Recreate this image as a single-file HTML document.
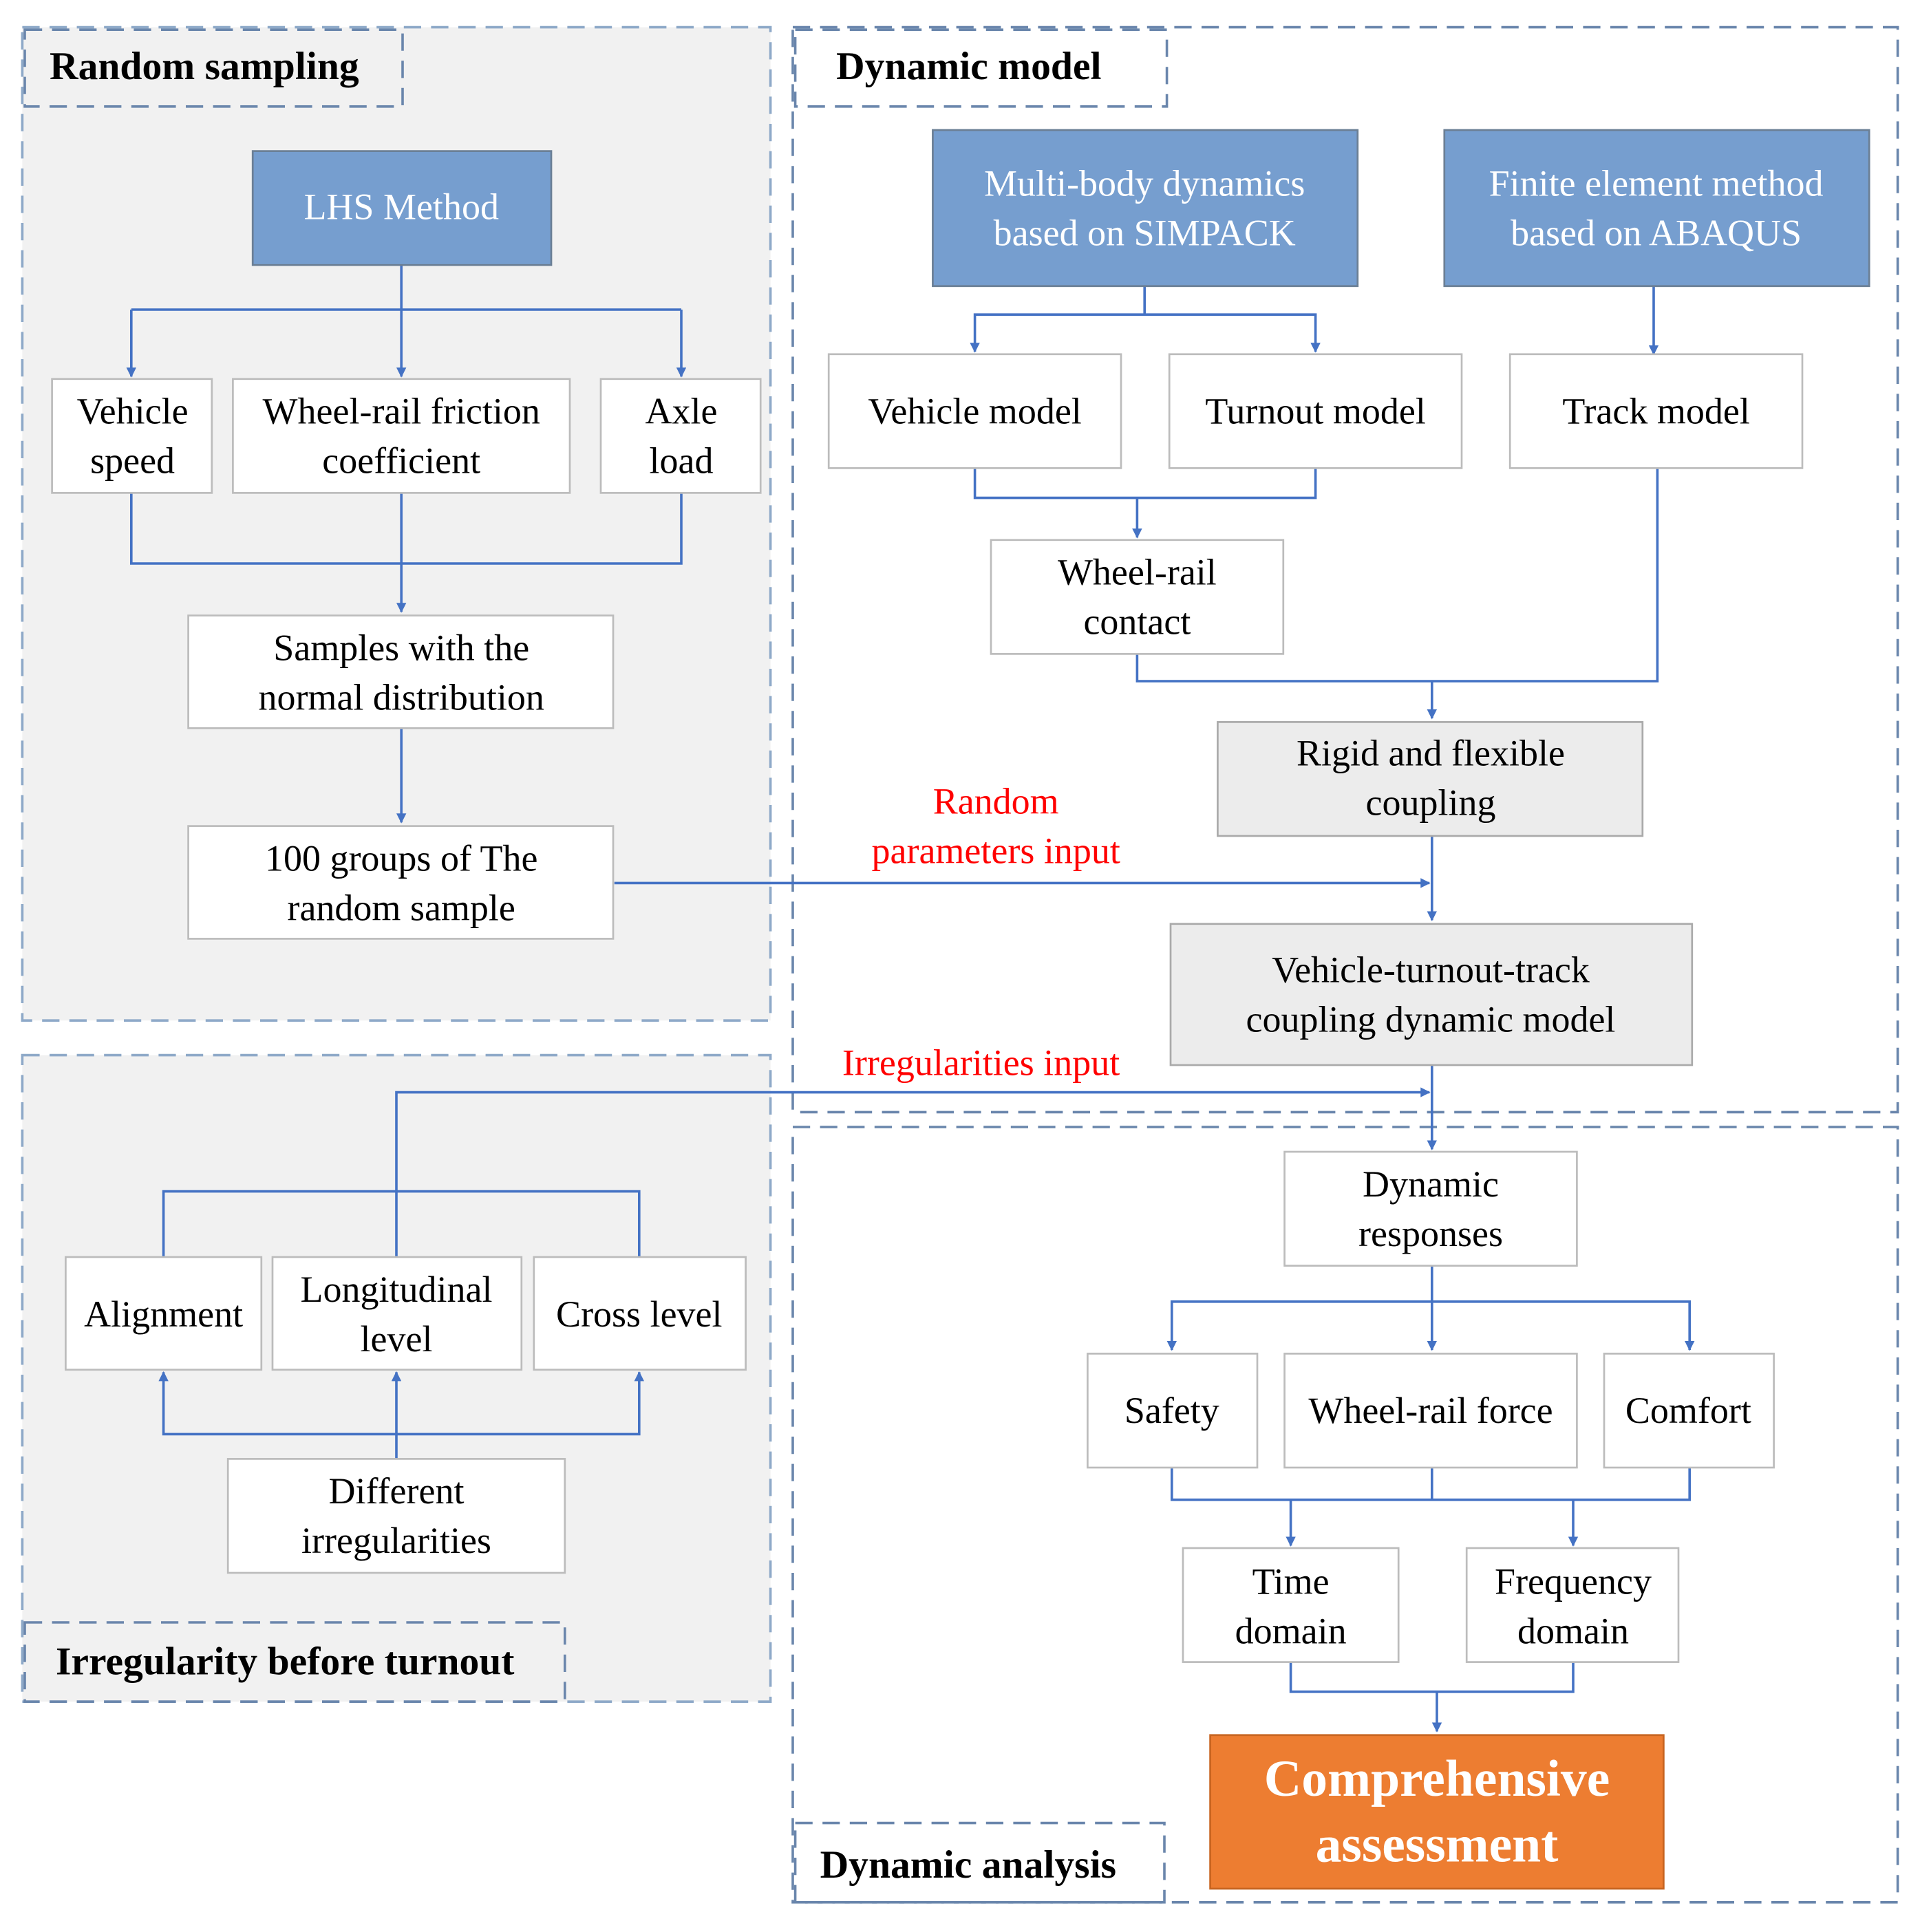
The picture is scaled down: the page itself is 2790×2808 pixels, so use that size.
<!DOCTYPE html>
<html><head><meta charset="utf-8"><style>html,body{margin:0;padding:0;background:#fff}svg{display:block}</style></head>
<body>
<svg width="2790" height="2808" viewBox="0 0 1550 1560" xmlns="http://www.w3.org/2000/svg" font-family="Liberation Serif, serif">
<defs>
<marker id="a" viewBox="0 0 10 10" refX="9" refY="5" markerWidth="4" markerHeight="4" orient="auto-start-reverse"><path d="M0,0L10,5L0,10z" fill="#4472c4"/></marker>
</defs>
<rect x="18" y="22" width="604" height="802" fill="#f1f1f1" stroke="#8ea9c8" stroke-width="2" stroke-dasharray="14,8"/>
<rect x="18" y="852" width="604" height="522" fill="#f1f1f1" stroke="#8ea9c8" stroke-width="2" stroke-dasharray="14,8"/>
<rect x="640" y="22" width="892" height="876" fill="none" stroke="#6a86ac" stroke-width="2" stroke-dasharray="14,8"/>
<rect x="640" y="910" width="892" height="626" fill="none" stroke="#6a86ac" stroke-width="2" stroke-dasharray="14,8"/>
<g fill="none" stroke="#6a86ac" stroke-width="2" stroke-dasharray="14,8">
<rect x="20" y="24" width="305" height="62"/>
<rect x="642" y="24" width="300" height="62"/>
<rect x="20" y="1310" width="436" height="64"/>
<rect x="642" y="1472" width="298" height="64"/>
</g>
<g font-weight="bold" font-size="32" fill="#000">
<text x="40" y="64">Random sampling</text>
<text x="675" y="64">Dynamic model</text>
<text x="45" y="1352">Irregularity before turnout</text>
<text x="662" y="1516">Dynamic analysis</text>
</g>
<g stroke="#4472c4" stroke-width="2" fill="none">
<path d="M324,214V304" marker-end="url(#a)"/>
<path d="M106,250H550"/><path d="M106,250V304" marker-end="url(#a)"/><path d="M550,250V304" marker-end="url(#a)"/>
<path d="M106,398V455H550V398"/><path d="M324,398V494" marker-end="url(#a)"/>
<path d="M324,588V664" marker-end="url(#a)"/>
<path d="M496,713H1154" marker-end="url(#a)"/>
<path d="M924,231V254H787V284" marker-end="url(#a)"/><path d="M924,254H1062V284" marker-end="url(#a)"/>
<path d="M1335,231V286" marker-end="url(#a)"/>
<path d="M787,378V402H1062V378"/><path d="M918,402V434" marker-end="url(#a)"/>
<path d="M918,528V550H1338V378"/><path d="M1156,550V580" marker-end="url(#a)"/>
<path d="M1156,675V743" marker-end="url(#a)"/>
<path d="M1156,860V928" marker-end="url(#a)"/>
<path d="M320,1015V882H1154" marker-end="url(#a)"/>
<path d="M132,1015V962H516V1015"/>
<path d="M320,1178V1108" marker-end="url(#a)"/>
<path d="M132,1108V1158H516V1108" marker-start="url(#a)" marker-end="url(#a)"/>
<path d="M1156,1022V1090" marker-end="url(#a)"/>
<path d="M946,1090V1051H1364V1090" marker-start="url(#a)" marker-end="url(#a)"/>
<path d="M946,1185V1211H1364V1185"/><path d="M1156,1185V1211"/>
<path d="M1042,1211V1248" marker-end="url(#a)"/><path d="M1270,1211V1248" marker-end="url(#a)"/>
<path d="M1042,1342V1366H1270V1342"/><path d="M1160,1366V1398" marker-end="url(#a)"/>
</g>
<g fill="#769ecf" stroke="#6b7f95" stroke-width="1.5">
<rect x="204" y="122" width="241" height="92"/>
<rect x="753" y="105" width="343" height="126"/>
<rect x="1166" y="105" width="343" height="126"/>
</g>
<g fill="#fff" font-size="30" text-anchor="middle">
<text x="324" y="177">LHS Method</text>
<text x="924" y="158">Multi-body dynamics</text><text x="924" y="198">based on SIMPACK</text>
<text x="1337" y="158">Finite element method</text><text x="1337" y="198">based on ABAQUS</text>
</g>
<g fill="#fff" stroke="#bcbcbc" stroke-width="1.5">
<rect x="42" y="306" width="129" height="92"/><rect x="188" y="306" width="272" height="92"/><rect x="485" y="306" width="129" height="92"/>
<rect x="152" y="497" width="343" height="91"/><rect x="152" y="667" width="343" height="91"/>
<rect x="669" y="286" width="236" height="92"/><rect x="944" y="286" width="236" height="92"/><rect x="1219" y="286" width="236" height="92"/>
<rect x="800" y="436" width="236" height="92"/>
<rect x="1037" y="930" width="236" height="92"/>
<rect x="878" y="1093" width="137" height="92"/><rect x="1037" y="1093" width="236" height="92"/><rect x="1295" y="1093" width="137" height="92"/>
<rect x="955" y="1250" width="174" height="92"/><rect x="1184" y="1250" width="171" height="92"/>
<rect x="53" y="1015" width="158" height="91"/><rect x="220" y="1015" width="201" height="91"/><rect x="431" y="1015" width="171" height="91"/>
<rect x="184" y="1178" width="272" height="92"/>
</g>
<g fill="#ececec" stroke="#aaa" stroke-width="1.5">
<rect x="983" y="583" width="343" height="92"/>
<rect x="945" y="746" width="421" height="114"/>
</g>
<rect x="977" y="1401" width="366" height="124" fill="#ed7d31" stroke="#c76420" stroke-width="1.5"/>
<g fill="#000" font-size="30" text-anchor="middle">
<text x="107" y="342">Vehicle</text><text x="107" y="382">speed</text>
<text x="324" y="342">Wheel-rail friction</text><text x="324" y="382">coefficient</text>
<text x="550" y="342">Axle</text><text x="550" y="382">load</text>
<text x="324" y="533">Samples with the</text><text x="324" y="573">normal distribution</text>
<text x="324" y="703">100 groups of  The</text><text x="324" y="743">random sample</text>
<text x="787" y="342">Vehicle model</text><text x="1062" y="342">Turnout model</text><text x="1337" y="342">Track model</text>
<text x="918" y="472">Wheel-rail</text><text x="918" y="512">contact</text>
<text x="1155" y="618">Rigid and flexible</text><text x="1155" y="658">coupling</text>
<text x="1155" y="793">Vehicle-turnout-track</text><text x="1155" y="833">coupling dynamic model</text>
<text x="1155" y="966">Dynamic</text><text x="1155" y="1006">responses</text>
<text x="946" y="1149">Safety</text><text x="1155" y="1149">Wheel-rail force</text><text x="1363" y="1149">Comfort</text>
<text x="1042" y="1287">Time</text><text x="1042" y="1327">domain</text>
<text x="1270" y="1287">Frequency</text><text x="1270" y="1327">domain</text>
<text x="132" y="1071">Alignment</text>
<text x="320" y="1051">Longitudinal</text><text x="320" y="1091">level</text>
<text x="516" y="1071">Cross level</text>
<text x="320" y="1214">Different</text><text x="320" y="1254">irregularities</text>
</g>
<g fill="#ff0000" font-size="30" text-anchor="middle">
<text x="804" y="657">Random</text><text x="804" y="697">parameters input</text>
<text x="792" y="868">Irregularities input</text>
</g>
<g fill="#fff" font-size="42" font-weight="bold" text-anchor="middle">
<text x="1160" y="1450">Comprehensive</text><text x="1160" y="1503">assessment</text>
</g>
</svg>
</body></html>
